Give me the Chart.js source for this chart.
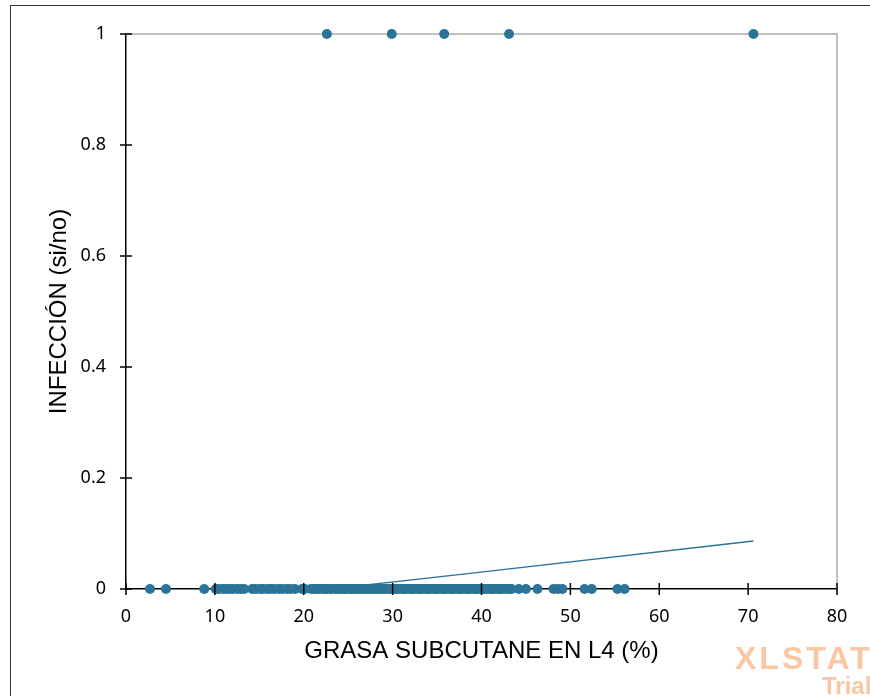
<!DOCTYPE html>
<html>
<head>
<meta charset="utf-8">
<script src="https://cdn.jsdelivr.net/npm/chart.js@4.4.0/dist/chart.umd.min.js"></script>
<style>
  html, body { margin: 0; padding: 0; background: #fff; overflow: hidden; }
  #wrap { position: relative; width: 870px; height: 696px; overflow: hidden; }
  #frame { position: absolute; left: 10px; top: 5px; width: 900px; height: 800px; border: 1.5px solid #333; pointer-events: none; }
  .wm { position: absolute; color: #fbc6a4; font-family: "Liberation Sans", Arial, sans-serif; font-weight: bold; white-space: nowrap; }
  #wm1 { left: 735px; top: 640px; font-size: 32px; letter-spacing: 3px; }
  #wm2 { left: 822px; top: 672px; font-size: 24px; }
</style>
</head>
<body>
<div id="wrap">
  <canvas id="chart"></canvas>
  <div id="frame"></div>
  <div class="wm" id="wm1">XLSTAT</div>
  <div class="wm" id="wm2">Trial</div>
</div>
<script>
  // patients with infection (y = 1)
  const xInfected = [22.6, 29.9, 35.8, 43.1, 70.6];
  // patients without infection (y = 0)
  const xHealthy = [
    2.7, 4.5, 8.8, 10.1, 10.4, 10.9, 11.3, 11.7, 12.0, 12.5, 12.9, 13.3,
    14.2, 14.6, 15.1, 15.4, 15.9, 16.3, 16.7, 17.2, 17.6, 18.1, 18.5, 19.0,
    19.8, 20.1, 20.8, 21.1, 21.5, 21.7, 22.1, 22.4, 22.6, 23.0, 23.2, 23.6,
    23.8, 24.1, 24.5, 24.7, 25.1, 25.3, 25.6, 26.0, 26.2, 26.5, 26.9, 27.1,
    27.4, 27.8, 28.0, 28.3, 28.7, 28.9, 29.2, 29.6, 29.8, 30.2, 30.4, 30.7,
    31.1, 31.3, 31.6, 32.0, 32.2, 32.5, 32.9, 33.1, 33.4, 33.8, 34.0, 34.3,
    34.7, 34.9, 35.2, 35.6, 35.8, 36.1, 36.5, 36.7, 37.0, 37.4, 37.6, 37.9,
    38.3, 38.5, 38.8, 39.2, 39.4, 39.7, 40.1, 40.3, 40.6, 41.0, 41.2, 41.5,
    41.9, 42.1, 42.4, 42.8, 43.1, 43.4, 44.2, 45.0, 46.3, 48.1, 48.6, 49.1,
    51.6, 52.4, 55.3, 56.1
  ];
  // fitted model
  const fitX = [23.0, 38.7, 70.6];
  const fitY = [0.0, 0.0283, 0.0865];

  const xTicks = [0, 10, 20, 30, 40, 50, 60, 70, 80];
  const yTicks = [0, 0.2, 0.4, 0.6, 0.8, 1];

  const BLUE = '#2b7397';
  const tickFont = { family: '"Noto Sans", sans-serif', size: 18 };
  const titleFont = { family: '"Liberation Sans", Arial, sans-serif', size: 24 };

  // cross ticks + grey top/right borders
  const crossTicks = {
    id: 'crossTicks',
    beforeDatasetsDraw(chart) {
      const { ctx, chartArea: a } = chart;
      ctx.save();
      ctx.strokeStyle = '#c0c0c0';
      ctx.lineWidth = 2;
      ctx.beginPath();
      ctx.moveTo(a.left, a.top); ctx.lineTo(a.right, a.top); ctx.lineTo(a.right, a.bottom);
      ctx.stroke();
      ctx.restore();
    },
    afterDatasetsDraw(chart) {
      const { ctx, scales: { x, y } } = chart;
      ctx.save();
      ctx.strokeStyle = '#000';
      ctx.lineWidth = 1.5;
      ctx.beginPath();
      xTicks.forEach(v => {
        const px = x.getPixelForValue(v);
        ctx.moveTo(px, y.bottom - 6); ctx.lineTo(px, y.bottom + 6);
      });
      yTicks.forEach(v => {
        const py = y.getPixelForValue(v);
        ctx.moveTo(x.left - 6, py); ctx.lineTo(x.left + 6, py);
      });
      ctx.stroke();
      ctx.restore();
    }
  };

  new Chart(document.getElementById('chart'), {
    type: 'scatter',
    data: {
      datasets: [
        { label: 'fit', type: 'line', data: fitX.map((v, i) => ({ x: v, y: fitY[i] })), borderColor: BLUE, borderWidth: 1.3, pointRadius: 0, fill: false, tension: 0, order: 2 },
        { label: 'no', data: xHealthy.map(v => ({ x: v, y: 0 })), backgroundColor: BLUE, borderWidth: 0, pointRadius: 5, clip: false, order: 1 },
        { label: 'si', data: xInfected.map(v => ({ x: v, y: 1 })), backgroundColor: BLUE, borderWidth: 0, pointRadius: 5, clip: false, order: 1 }
      ]
    },
    options: {
      responsive: true, maintainAspectRatio: false, animation: false,
      layout: { padding: { left: 0, top: 34, right: 33, bottom: 0 } },
      plugins: { legend: { display: false }, tooltip: { enabled: false } },
      scales: {
        x: {
          type: 'linear', min: 0, max: 80,
          afterFit: s => { s.height = 107; },
          afterBuildTicks: s => { s.ticks = xTicks.map(v => ({ value: v })); },
          grid: { drawOnChartArea: false, drawTicks: false },
          border: { color: '#000', width: 1.5 },
          ticks: { color: '#000', font: tickFont, padding: 17, callback: v => String(v) },
          title: { display: true, text: 'GRASA SUBCUTANE EN L4 (%)', color: '#000', font: titleFont, padding: { bottom: 30 } }
        },
        y: {
          type: 'linear', min: 0, max: 1,
          afterFit: s => { s.width = 126; },
          afterBuildTicks: s => { s.ticks = yTicks.map(v => ({ value: v })); },
          grid: { drawOnChartArea: false, drawTicks: false },
          border: { color: '#000', width: 1.5 },
          ticks: { color: '#000', font: tickFont, padding: 20, callback: v => String(v) },
          title: { display: true, text: 'INFECCIÓN (si/no)', color: '#000', font: titleFont, padding: { top: 45 } }
        }
      }
    },
    plugins: [crossTicks]
  });
</script>
</body>
</html>
